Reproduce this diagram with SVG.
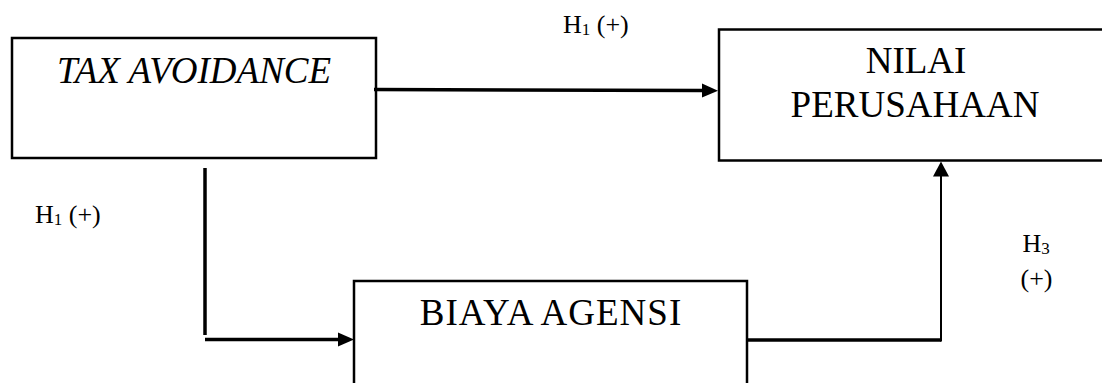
<svg xmlns="http://www.w3.org/2000/svg" width="1102" height="383" viewBox="0 0 1102 383">
  <style>
    .box { fill: #ffffff; stroke: #000000; stroke-width: 2.5; }
    .lbl { font-family: "Liberation Serif", "Times New Roman", serif; font-size: 37px; fill: #000000; text-anchor: middle; }
    .h { font-family: "Liberation Serif", "Times New Roman", serif; font-size: 26px; fill: #000000; }
    .sub { font-size: 17px; }
    .thick { stroke: #000000; stroke-width: 3.5; fill: none; }
    .thin { stroke: #000000; stroke-width: 2; fill: none; }
    .head { fill: #000000; stroke: none; }
  </style>
  <rect width="1102" height="383" fill="#ffffff"/>
  <g id="tax-avoidance">
    <rect class="box" x="12" y="38" width="364" height="120"/>
    <text class="lbl" x="194" y="83" font-style="italic" font-size="38">TAX AVOIDANCE</text>
  </g>
  <g id="nilai-perusahaan">
    <rect class="box" x="719" y="29.5" width="400" height="131"/>
    <text class="lbl" x="916" y="73">NILAI</text>
    <text class="lbl" x="915" y="117">PERUSAHAAN</text>
  </g>
  <g id="biaya-agensi">
    <rect class="box" x="354" y="281" width="393" height="120"/>
    <text class="lbl" x="551" y="325" font-size="38" letter-spacing="1">BIAYA AGENSI</text>
  </g>
  <g id="connectors">
    <line class="thick" x1="374" y1="89.5" x2="703" y2="90.5"/>
    <polygon class="head" points="718,90.7 702,83.5 702,97.5"/>
    <line class="thick" x1="205" y1="168" x2="205" y2="335"/>
    <line class="thick" x1="205" y1="339.5" x2="339" y2="339.5"/>
    <polygon class="head" points="354,339.5 338,332.5 338,346.5"/>
    <line class="thick" x1="747" y1="340" x2="941" y2="340"/>
    <line class="thin" x1="941" y1="341.5" x2="941" y2="175"/>
    <polygon class="head" points="941,161.5 933,176.5 949,176.5"/>
  </g>
  <g id="labels">
    <text class="h" x="563" y="33">H<tspan class="sub" dy="2">1</tspan><tspan dy="-2"> (+)</tspan></text>
    <text class="h" x="35" y="223">H<tspan class="sub" dy="2">1</tspan><tspan dy="-2"> (+)</tspan></text>
    <text class="h" x="1022.5" y="251.5">H<tspan class="sub" dy="2.5">3</tspan></text>
    <text class="h" x="1020.5" y="287">(+)</text>
  </g>
</svg>
